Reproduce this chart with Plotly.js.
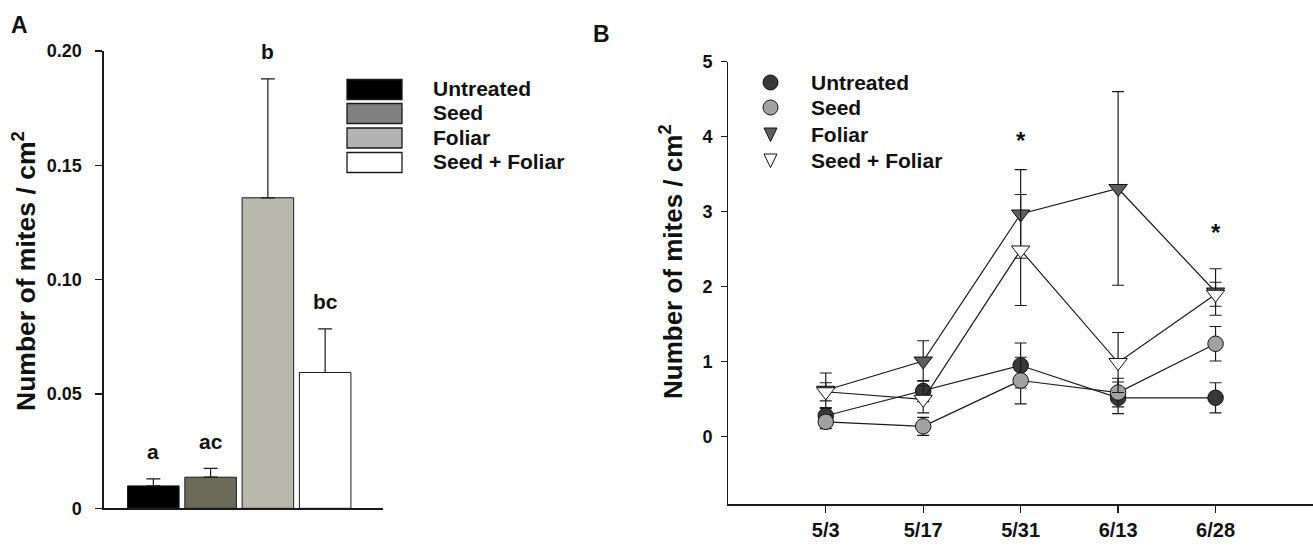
<!DOCTYPE html>
<html>
<head>
<meta charset="utf-8">
<script src="https://cdn.plot.ly/plotly-3.0.1.min.js"></script>
<style>html,body{margin:0;padding:0;background:#fff;}#chart{width:1313px;height:548px;}</style>
</head>
<body>
<div id="chart"></div>
<script>
// ---- Panel A data ----
const treatments = ["Untreated", "Seed", "Foliar", "Seed + Foliar"];
const meanA = [0.0098, 0.0136, 0.1358, 0.0594];
const seA = [0.0031, 0.0039, 0.0520, 0.0191];
const lettersA = ["a", "ac", "b", "bc"];
const tickValsA = [0, 0.05, 0.10, 0.15, 0.20];
const tickTextA = ["0", "0.05", "0.10", "0.15", "0.20"];

// ---- Panel B data ----
const dates = ["5/3", "5/17", "5/31", "6/13", "6/28"];
const untreated = [0.28, 0.61, 0.95, 0.52, 0.52];
const untreatedSE = [0.10, 0.14, 0.30, 0.21, 0.20];
const seed = [0.20, 0.14, 0.75, 0.59, 1.24];
const seedSE = [0.09, 0.12, 0.31, 0.19, 0.23];
const foliar = [0.62, 1.01, 2.97, 3.31, 1.93];
const foliarSE = [0.23, 0.27, 0.59, 1.29, 0.31];
const seedFoliar = [0.60, 0.50, 2.49, 0.99, 1.90];
const seedFoliarSE = [0.12, 0.18, 0.74, 0.40, 0.16];
const sigDates = ["5/31", "6/28"];
const sigY = [4.0, 2.78];

const FONT = "Liberation Sans, Arial, sans-serif";
const W = 1313, H = 548;
const px = v => v / W;
const py = v => 1 - v / H;

const barColors = ["#000000", "#6b6b58", "#b9b9ad", "#ffffff"];
const legendColorsA = ["#000000", "#808080", "#b3b3b3", "#ffffff"];

const traces = [];
traces.push({
  type: "bar", x: treatments, y: meanA, width: 0.9,
  marker: {color: barColors, line: {color: "#1a1a1a", width: 1}},
  error_y: {type: "data", symmetric: false, array: seA, arrayminus: seA.map(() => 0),
            color: "#1a1a1a", thickness: 1.2, width: 7},
  xaxis: "x", yaxis: "y", showlegend: false, hoverinfo: "skip"
});

const seriesB = [
  {name: "Untreated", y: untreated, se: untreatedSE, symbol: "circle", color: "#383838", size: 15.5},
  {name: "Seed", y: seed, se: seedSE, symbol: "circle", color: "#a2a2a2", size: 15.5},
  {name: "Foliar", y: foliar, se: foliarSE, symbol: "triangle-down", color: "#5e5e5e", size: 16},
  {name: "Seed + Foliar", y: seedFoliar, se: seedFoliarSE, symbol: "triangle-down", color: "#ffffff", size: 16}
];
seriesB.forEach(s => {
  traces.push({
    type: "scatter", mode: "lines+markers", x: dates, y: s.y, name: s.name,
    line: {color: "#1a1a1a", width: 1.2},
    marker: {symbol: s.symbol, size: s.size, color: s.color, line: {color: "#111", width: 1}},
    error_y: {type: "data", array: s.se, color: "#1a1a1a", thickness: 1.2, width: 6},
    xaxis: "x2", yaxis: "y2", showlegend: false, hoverinfo: "skip"
  });
});

const axisCommon = {
  showline: true, linecolor: "#1a1a1a", linewidth: 1.2, showgrid: false, zeroline: false,
  tickfont: {family: FONT, size: 18, color: "#111", weight: "bold"}
};

const annotations = [];
const shapes = [];
// letters above bars
treatments.forEach((t, i) => {
  annotations.push({
    xref: "x", yref: "y", x: t, y: meanA[i] + seA[i], text: lettersA[i],
    showarrow: false, yanchor: "middle", yshift: 27,
    font: {family: FONT, size: 21, color: "#111", weight: "bold"}
  });
});
// asterisks
sigDates.forEach((d, i) => {
  annotations.push({
    xref: "x2", yref: "y2", x: d, y: sigY[i], text: "*", showarrow: false, yanchor: "middle",
    yshift: -4, font: {family: FONT, size: 24, color: "#111", weight: "bold"}
  });
});
// panel labels
annotations.push({xref: "paper", yref: "paper", x: px(9), y: py(10), xanchor: "left", yanchor: "top",
  text: "A", showarrow: false, font: {family: FONT, size: 23, color: "#111", weight: "bold"}});
annotations.push({xref: "paper", yref: "paper", x: px(591), y: py(19), xanchor: "left", yanchor: "top",
  text: "B", showarrow: false, font: {family: FONT, size: 23, color: "#111", weight: "bold"}});
// y-axis titles
const ytitle = "Number of mites / cm<sup>2</sup>";
annotations.push({xref: "paper", yref: "paper", x: px(24), y: py(271), textangle: -90,
  xanchor: "center", yanchor: "middle",
  text: ytitle, showarrow: false, font: {family: FONT, size: 26.5, color: "#111", weight: "bold"}});
annotations.push({xref: "paper", yref: "paper", x: px(671), y: py(262), textangle: -90,
  xanchor: "center", yanchor: "middle",
  text: ytitle, showarrow: false, font: {family: FONT, size: 26, color: "#111", weight: "bold"}});

// Panel A legend (rectangles + text)
const legTopA = [79.5, 103.5, 128, 152.5];
treatments.forEach((t, i) => {
  shapes.push({type: "rect", xref: "paper", yref: "paper",
    x0: px(347), x1: px(402), y0: py(legTopA[i] + 20), y1: py(legTopA[i]),
    fillcolor: legendColorsA[i], line: {color: "#1a1a1a", width: 1.3}});
  annotations.push({xref: "paper", yref: "paper", x: px(431), y: py(legTopA[i] + 9),
    xanchor: "left", yanchor: "middle", text: t, showarrow: false,
    font: {family: FONT, size: 21, color: "#111", weight: "bold"}});
});

// Panel B legend (symbol + text)
const legRowB = [82.5, 107.5, 134, 160];
seriesB.forEach((s, i) => {
  const cx = 770.5, cy = legRowB[i];
  if (s.symbol === "circle") {
    const r = 7.5;
    shapes.push({type: "circle", xref: "paper", yref: "paper",
      x0: px(cx - r), x1: px(cx + r), y0: py(cy + r), y1: py(cy - r),
      fillcolor: s.color, line: {color: "#111", width: 1}});
  } else {
    const path = "M " + px(cx - 6.5) + "," + py(cy - 6) + " L " + px(cx + 6.5) + "," + py(cy - 6) +
                 " L " + px(cx) + "," + py(cy + 7.5) + " Z";
    shapes.push({type: "path", xref: "paper", yref: "paper", path: path,
      fillcolor: s.color, line: {color: "#111", width: 1}});
  }
  annotations.push({xref: "paper", yref: "paper", x: px(809), y: py(cy),
    xanchor: "left", yanchor: "middle", text: s.name, showarrow: false,
    font: {family: FONT, size: 21, color: "#111", weight: "bold"}});
});

const layout = {
  width: W, height: H, margin: {l: 0, r: 0, t: 0, b: 0},
  paper_bgcolor: "#ffffff", plot_bgcolor: "rgba(0,0,0,0)",
  showlegend: false,
  xaxis: Object.assign({}, axisCommon, {
    domain: [px(103.5), px(383)], range: [-0.87, 4.01], type: "category", anchor: "y",
    showticklabels: false, ticks: ""
  }),
  yaxis: Object.assign({}, axisCommon, {
    domain: [py(508.3), py(51)], range: [0, 0.2], anchor: "x",
    tickvals: tickValsA, ticktext: tickTextA, ticks: "outside", ticklen: 7, tickwidth: 1.2,
    tickcolor: "#1a1a1a", ticklabelstandoff: 10
  }),
  xaxis2: Object.assign({}, axisCommon, {
    domain: [px(728.3), 1], range: [-1, 5], type: "category", anchor: "y2",
    ticks: "outside", ticklen: 7, tickwidth: 1.2, tickcolor: "#1a1a1a",
    tickfont: {family: FONT, size: 20, color: "#111", weight: "bold"}
  }),
  yaxis2: Object.assign({}, axisCommon, {
    domain: [py(504.3), py(61.7)], range: [-0.9, 5], anchor: "x2",
    tickvals: [0, 1, 2, 3, 4, 5], ticks: "outside", ticklen: 6, tickwidth: 1.2,
    tickcolor: "#1a1a1a", ticklabelstandoff: 5
  }),
  annotations: annotations,
  shapes: shapes
};

Plotly.newPlot("chart", traces, layout, {displayModeBar: false, staticPlot: true});
</script>
</body>
</html>
